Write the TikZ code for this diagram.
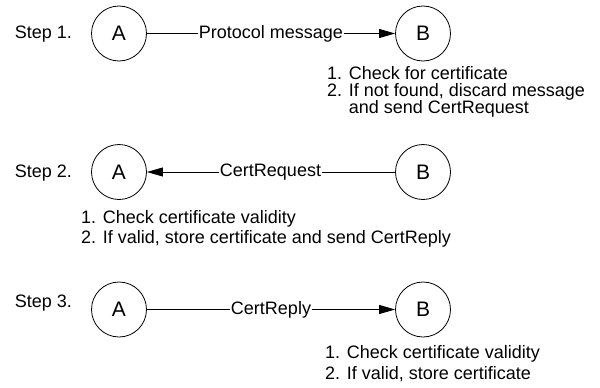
\documentclass[tikz,border=0pt]{standalone}
\usepackage{fontspec}
\setmainfont{Liberation Sans}
\usetikzlibrary{arrows.meta}
\begin{document}
\begin{tikzpicture}[x=1pt,y=-1pt,
  party/.style={draw,circle,line width=0.8pt,minimum size=55pt,inner sep=0pt,font=\fontsize{21}{21}\selectfont},
  steplabel/.style={font=\fontsize{18}{18}\selectfont,inner sep=0pt},
  msg/.style={font=\fontsize{18}{18}\selectfont,inner sep=0.5pt},
  notes/.style={inner sep=0pt,align=left,anchor=base west},
  conn/.style={line width=0.8pt},
  arr/.style={conn,-{Triangle[length=16pt,width=9pt]}}]
\useasboundingbox (0,0) rectangle (600,388);
% Step 1
\node[steplabel] (s1) at (43.5,34) {Step 1.};
\node[party] (a1) at (119,33.5) {A};
\node[party] (b1) at (423,33.5) {B};
\node[msg] (m1) at (271,33.5) {Protocol message};
\draw[conn] (a1) -- (m1);
\draw[arr] (m1) -- (b1);
\node[notes,font=\fontsize{18}{17}\selectfont] (n1) at (327,113.5) {1. Check for certificate\\2. If not found, discard message\\\phantom{2. }and send CertRequest};
% Step 2
\node[steplabel] (s2) at (43.5,173) {Step 2.};
\node[party] (a2) at (119,172) {A};
\node[party] (b2) at (423,172) {B};
\node[msg] (m2) at (270.5,172) {CertRequest};
\draw[conn] (b2) -- (m2);
\draw[arr] (m2) -- (a2);
\node[notes,font=\fontsize{18}{19.5}\selectfont] (n2) at (81,243) {1. Check certificate validity\\2. If valid, store certificate and send CertReply};
% Step 3
\node[steplabel] (s3) at (43.5,303.5) {Step 3.};
\node[party] (a3) at (119,309.5) {A};
\node[party] (b3) at (423,309.5) {B};
\node[msg] (m3) at (271,309.5) {CertReply};
\draw[conn] (a3) -- (m3);
\draw[arr] (m3) -- (b3);
\node[notes,font=\fontsize{18}{21}\selectfont] (n3) at (325,379.5) {1. Check certificate validity\\2. If valid, store certificate};
\end{tikzpicture}
\end{document}
